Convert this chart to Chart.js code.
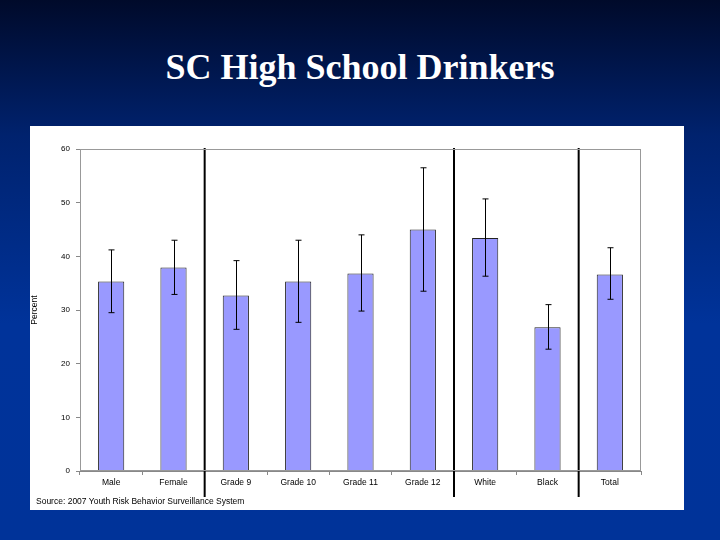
<!DOCTYPE html>
<html><head><meta charset="utf-8">
<script src="https://cdn.jsdelivr.net/npm/chart.js@4"></script>
<style>
html,body{margin:0;padding:0;width:720px;height:540px;overflow:hidden}
body{background:linear-gradient(to bottom,#000a2a 0%,#00226e 25%,#00339a 60%,#003399 100%);position:relative;font-family:"Liberation Sans",Arial,sans-serif}
#title{position:absolute;left:0;top:46px;width:720px;text-align:center;color:#fff;font-family:"Liberation Serif","Times New Roman",serif;font-size:36px;font-weight:bold}
#panel{position:absolute;left:30px;top:126px;width:654px;height:384px;background:#fff}
#c{position:absolute;left:0;top:0}
#src{position:absolute;left:6px;top:370px;font-size:8.5px;color:#000}
</style></head><body>
<div id="title">SC High School Drinkers</div>
<div id="panel"><canvas id="c" width="654" height="384"></canvas><div id="src">Source: 2007 Youth Risk Behavior Surveillance System</div></div>
<script>
const categories=["Male","Female","Grade 9","Grade 10","Grade 11","Grade 12","White","Black","Total"];
const values=[35.3,37.9,32.7,35.3,36.8,45.0,43.4,26.8,36.6];
const lower=[29.5,32.9,26.4,27.7,29.8,33.5,36.3,22.7,32.0];
const upper=[41.2,43.0,39.2,43.0,44.0,56.5,50.7,31.0,41.6];
const separatorsAfter=[1,5,7];
const yTicks=[0,10,20,30,40,50,60];

const extras={id:'extras',afterDatasetsDraw(chart){
  const ctx=chart.ctx,x=chart.scales.x,y=chart.scales.y,a=chart.chartArea;
  ctx.save();
  ctx.strokeStyle='#000';ctx.lineWidth=1;
  values.forEach((v,i)=>{
    const cx=Math.round(x.getPixelForValue(i))+0.5;
    const t=y.getPixelForValue(upper[i]),b=y.getPixelForValue(lower[i]);
    ctx.beginPath();ctx.moveTo(cx,t);ctx.lineTo(cx,b);
    ctx.moveTo(cx-3,t);ctx.lineTo(cx+3,t);ctx.moveTo(cx-3,b);ctx.lineTo(cx+3,b);ctx.stroke();
  });
  ctx.lineWidth=2;
  separatorsAfter.forEach(i=>{
    const sx=(x.getPixelForValue(i)+x.getPixelForValue(i+1))/2;
    ctx.beginPath();ctx.moveTo(sx,a.top-1);ctx.lineTo(sx,a.bottom+26);ctx.stroke();
  });
  ctx.lineWidth=1;ctx.strokeStyle='#999';
  ctx.strokeRect(a.left+0.5,a.top+0.5,a.right-a.left-1,a.bottom-a.top-1);
  ctx.restore();
}};

new Chart(document.getElementById('c'),{
  type:'bar',
  data:{labels:categories,datasets:[{data:values,backgroundColor:'#9999ff',borderColor:'#222',borderWidth:{top:1,left:1,right:1,bottom:0},borderSkipped:false,barPercentage:0.42,categoryPercentage:1}]},
  options:{responsive:false,animation:false,devicePixelRatio:1,
    layout:{padding:{top:23,right:43,left:0,bottom:0}},
    plugins:{legend:{display:false},tooltip:{enabled:false}},
    scales:{
      x:{grid:{display:true,drawOnChartArea:false,offset:true,tickLength:4,color:'#888'},border:{color:'#888'},
         ticks:{color:'#000',font:{size:8.5,family:'Liberation Sans'},padding:3,maxRotation:0},
         afterFit(s){s.height=39;}},
      y:{min:0,max:60,afterBuildTicks(s){s.ticks=yTicks.map(v=>({value:v}));},
         grid:{display:true,drawOnChartArea:false,tickLength:4,color:'#888'},border:{color:'#888'},
         ticks:{color:'#000',font:{size:8,family:'Liberation Sans'},padding:6},
         title:{display:true,text:'Percent',color:'#000',font:{size:8.5,family:'Liberation Sans'},padding:0},
         afterFit(s){s.width=50;}}
    }},
  plugins:[extras]
});
</script>
</body></html>
